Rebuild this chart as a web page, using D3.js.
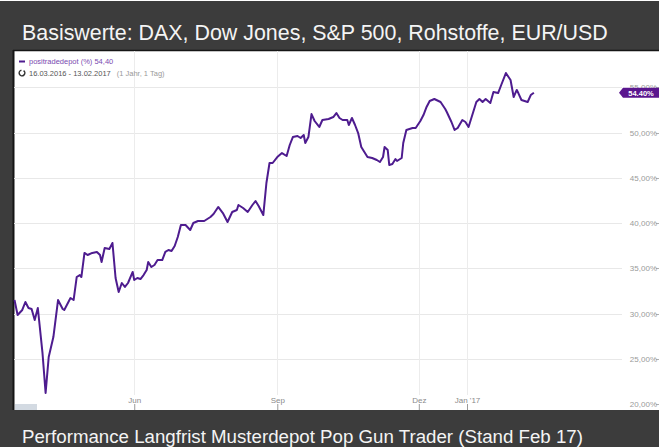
<!DOCTYPE html>
<html>
<head>
<meta charset="utf-8">
<script src="https://cdn.jsdelivr.net/npm/d3@7"></script>
<style>
  html, body { margin: 0; padding: 0; background: #3c3c3c; }
  svg { display: block; }
</style>
</head>
<body>
<svg id="chart" width="659" height="447"></svg>
<script>
// data
const dates = [
  "2016-03-16","2016-03-18","2016-03-21","2016-03-23","2016-03-25","2016-03-27","2016-03-29","2016-03-31",
  "2016-04-03","2016-04-05","2016-04-07","2016-04-10","2016-04-13","2016-04-16","2016-04-17","2016-04-21",
  "2016-04-23","2016-04-25","2016-04-27","2016-04-28","2016-04-30","2016-05-02","2016-05-05","2016-05-08",
  "2016-05-10","2016-05-11","2016-05-13","2016-05-16","2016-05-18","2016-05-20","2016-05-22","2016-05-24",
  "2016-05-26","2016-05-28","2016-05-31","2016-06-01","2016-06-03","2016-06-05","2016-06-07","2016-06-09",
  "2016-06-10","2016-06-12","2016-06-14","2016-06-16","2016-06-19","2016-06-21","2016-06-23","2016-06-25",
  "2016-06-27","2016-06-29","2016-07-01","2016-07-04","2016-07-07","2016-07-09","2016-07-12","2016-07-16",
  "2016-07-20","2016-07-22","2016-07-25","2016-07-28","2016-07-31","2016-08-03","2016-08-06","2016-08-07",
  "2016-08-10","2016-08-13","2016-08-16","2016-08-18","2016-08-20","2016-08-23","2016-08-25","2016-08-27",
  "2016-08-29","2016-09-01","2016-09-04","2016-09-07","2016-09-09","2016-09-11","2016-09-14","2016-09-16",
  "2016-09-18","2016-09-19","2016-09-21","2016-09-23","2016-09-25","2016-09-28","2016-09-30","2016-10-04",
  "2016-10-07","2016-10-09","2016-10-11","2016-10-13","2016-10-16","2016-10-17","2016-10-19","2016-10-21",
  "2016-10-23","2016-10-25","2016-10-27","2016-10-29","2016-11-01","2016-11-04","2016-11-06","2016-11-08",
  "2016-11-09","2016-11-11","2016-11-12","2016-11-14","2016-11-16","2016-11-17","2016-11-20","2016-11-21",
  "2016-11-23","2016-11-27","2016-11-29","2016-12-02","2016-12-04","2016-12-06","2016-12-08","2016-12-11",
  "2016-12-15","2016-12-18","2016-12-19","2016-12-22","2016-12-24","2016-12-26","2016-12-29","2016-12-31",
  "2017-01-02","2017-01-05","2017-01-07","2017-01-09","2017-01-11","2017-01-13","2017-01-16","2017-01-18",
  "2017-01-21","2017-01-23","2017-01-26","2017-01-29","2017-01-31","2017-02-02","2017-02-03","2017-02-05",
  "2017-02-09","2017-02-11","2017-02-13"
];
const values = [
  31.49,29.83,30.39,31.27,30.61,30.50,29.28,30.61,
  25.64,21.22,25.19,27.40,31.49,30.50,30.39,31.71,
  31.49,34.03,34.25,34.03,36.69,36.46,36.69,36.80,
  36.46,35.69,37.24,37.13,37.79,33.92,32.38,33.37,
  32.93,33.37,34.59,33.70,33.92,33.81,34.25,34.81,
  35.69,35.14,35.36,35.91,35.91,36.80,37.02,36.91,
  37.46,38.45,39.78,39.78,39.23,40.00,40.22,40.22,
  40.66,40.99,41.77,41.10,40.11,41.22,41.44,41.99,
  41.66,41.22,41.99,42.43,41.88,40.88,44.42,46.63,
  46.63,47.29,47.73,47.40,48.62,49.50,49.61,49.39,
  49.72,48.84,49.50,52.04,51.27,50.61,51.38,51.49,
  51.71,52.15,51.60,51.38,51.38,50.83,51.60,50.83,
  49.94,48.40,47.85,47.29,47.18,46.96,46.74,47.29,
  48.40,48.07,46.41,46.52,47.07,46.85,47.18,48.84,
  50.28,50.50,50.50,51.27,51.93,52.82,53.48,53.70,
  53.37,52.60,52.27,51.16,50.28,50.50,51.38,51.16,
  50.61,52.27,53.37,53.70,53.37,53.70,53.26,54.48,
  54.36,55.25,56.57,55.80,53.92,54.70,54.36,53.59,
  53.37,54.14,54.40
];
const yTicks = [20, 25, 30, 35, 40, 45, 50, 55];
const xTickDates = ["2016-06-01", "2016-09-01", "2016-12-01", "2017-01-01"];
const xTickLabels = ["Jun", "Sep", "Dez", "Jan '17"];
const titleText = "Basiswerte: DAX, Dow Jones, S&P 500, Rohstoffe, EUR/USD";
const captionText = "Performance Langfrist Musterdepot Pop Gun Trader (Stand Feb 17)";
const seriesName = "positradedepot (%)";
const lastValue = "54,40";
const rangeText = "16.03.2016 - 13.02.2017";
const spanText = "(1 Jahr, 1 Tag)";

const parse = d3.timeParse("%Y-%m-%d");
const points = dates.map((d, i) => ({ date: parse(d), value: values[i] }));

const svg = d3.select("#chart");
const W = 659, H = 447;
const plotLeft = 14, plotTop = 51, plotBottom = 410;

// frame
svg.append("rect").attr("width", W).attr("height", H).attr("fill", "#3c3c3c");
svg.append("rect").attr("x", 0).attr("y", 0).attr("width", W).attr("height", 1).attr("fill", "#ffffff");
svg.append("rect")
  .attr("x", plotLeft).attr("y", plotTop)
  .attr("width", W - plotLeft).attr("height", plotBottom - plotTop)
  .attr("fill", "#ffffff");
svg.append("line")
  .attr("x1", plotLeft - 0.5).attr("x2", plotLeft - 0.5)
  .attr("y1", plotTop - 1).attr("y2", plotBottom)
  .attr("stroke", "#151515").attr("stroke-width", 2);
svg.append("line")
  .attr("x1", plotLeft - 1).attr("x2", W)
  .attr("y1", plotTop - 0.5).attr("y2", plotTop - 0.5)
  .attr("stroke", "#151515").attr("stroke-width", 1.5);

function fitText(sel, target) {
  const w = sel.node().getComputedTextLength();
  const fs = parseFloat(sel.attr("font-size"));
  sel.attr("font-size", (fs * target / w).toFixed(2));
}

const title = svg.append("text")
  .attr("x", 22).attr("y", 40)
  .attr("font-family", "'Liberation Sans', Arial, sans-serif")
  .attr("font-size", 20)
  .attr("fill", "#f4f4f4")
  .text(titleText);
fitText(title, 586);

const caption = svg.append("text")
  .attr("x", 22).attr("y", 443)
  .attr("font-family", "'Liberation Sans', Arial, sans-serif")
  .attr("font-size", 19)
  .attr("fill", "#f4f4f4")
  .text(captionText);
fitText(caption, 561);

// scales
const x = d3.scaleTime()
  .domain([parse("2016-03-16"), parse("2017-03-16")])
  .range([14.5, 14.5 + 365 * 1.555]);
const y = d3.scaleLinear().domain([20, 55]).range([404, 87.25]);

const g = svg.append("g");

// horizontal grid
g.selectAll(".hgrid").data(yTicks).enter().append("line")
  .attr("x1", plotLeft).attr("x2", 622)
  .attr("y1", d => Math.round(y(d)) + 0.5).attr("y2", d => Math.round(y(d)) + 0.5)
  .attr("stroke", d => d === 20 ? "none" : "#e8e8e8");
g.selectAll(".htick").data(yTicks).enter().append("line")
  .attr("x1", 656).attr("x2", 659)
  .attr("y1", d => Math.round(y(d)) + 0.5).attr("y2", d => Math.round(y(d)) + 0.5)
  .attr("stroke", "#b0b0b0");

// vertical grid
const xt = xTickDates.map(parse);
g.selectAll(".vgrid").data(xt).enter().append("line")
  .attr("x1", d => Math.round(x(d)) + 0.5).attr("x2", d => Math.round(x(d)) + 0.5)
  .attr("y1", plotTop).attr("y2", 395)
  .attr("stroke", "#ececec");

// x axis via d3.axisBottom
const xAxis = d3.axisBottom(x)
  .tickValues(xt)
  .tickFormat((d, i) => xTickLabels[i])
  .tickSize(6)
  .tickPadding(-13);
const xa = svg.append("g").attr("transform", "translate(0,404)").call(xAxis);
xa.select(".domain").remove();
xa.selectAll(".tick line").attr("stroke", "#9a9a9a");
xa.selectAll(".tick text")
  .attr("font-family", "'Liberation Sans', Arial, sans-serif")
  .attr("font-size", 8).attr("fill", "#8a8a8a");

// y axis labels
const yAxis = d3.axisRight(y)
  .tickValues(yTicks)
  .tickFormat(d => d3.format(".2f")(d).replace(".", ",") + "%")
  .tickSize(0)
  .tickPadding(0);
const ya = svg.append("g").attr("transform", "translate(657,0)").call(yAxis);
ya.select(".domain").remove();
ya.selectAll(".tick text")
  .attr("text-anchor", "end")
  .attr("font-family", "'Liberation Sans', Arial, sans-serif")
  .attr("font-size", 8).attr("fill", "#9a9a9a");

// line
const line = d3.line().x(d => x(d.date)).y(d => y(d.value));
g.append("path").datum(points)
  .attr("d", line)
  .attr("fill", "none")
  .attr("stroke", "#4e1c8f")
  .attr("stroke-width", 2)
  .attr("stroke-linejoin", "round");

// last value flag
const last = points[points.length - 1];
const fy = y(last.value);
svg.append("path")
  .attr("d", `M619,${fy} L623,${fy - 5} L659,${fy - 5} L659,${fy + 5} L623,${fy + 5} Z`)
  .attr("fill", "#5a168e");
svg.append("text")
  .attr("x", 641).attr("y", fy + 3)
  .attr("text-anchor", "middle")
  .attr("font-family", "'Liberation Sans', Arial, sans-serif")
  .attr("font-size", 7.5).attr("font-weight", "bold")
  .attr("fill", "#ffffff")
  .text(d3.format(".2f")(last.value) + "%");

// legend
svg.append("line")
  .attr("x1", 19).attr("x2", 25).attr("y1", 61.5).attr("y2", 61.5)
  .attr("stroke", "#4e1c8f").attr("stroke-width", 2);
svg.append("text")
  .attr("x", 29).attr("y", 64)
  .attr("font-family", "'Liberation Sans', Arial, sans-serif")
  .attr("font-size", 7.5).attr("fill", "#7a4ab0")
  .text(seriesName + " " + lastValue);
svg.append("path")
  .attr("d", d3.arc()({ innerRadius: 2, outerRadius: 3.6, startAngle: 0.6, endAngle: 2 * Math.PI - 0.2 }))
  .attr("transform", "translate(22,73)")
  .attr("fill", "#333");
const l2 = svg.append("text")
  .attr("x", 29).attr("y", 76)
  .attr("font-family", "'Liberation Sans', Arial, sans-serif")
  .attr("font-size", 7.5).attr("fill", "#555");
l2.append("tspan").text(rangeText);
l2.append("tspan").attr("dx", 6).attr("fill", "#999").text(spanText);

// small navigator stub at bottom left
svg.append("rect")
  .attr("x", plotLeft + 1).attr("y", 404).attr("width", 22).attr("height", 6)
  .attr("fill", "#d3dae2");
</script>
</body>
</html>
